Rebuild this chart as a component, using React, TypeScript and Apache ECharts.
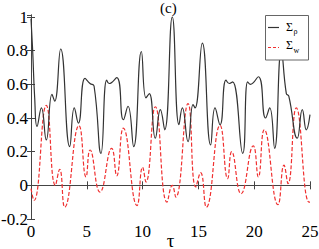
import React, { useEffect, useRef } from "react";
import * as echarts from "echarts";

const xTicks = [0, 5, 10, 15, 20, 25];
const yTicks = [-0.2, 0, 0.2, 0.4, 0.6, 0.8, 1];

const sigmaRho: [number, number][] = [
  [0, 0.99], [0.15, 0.8], [0.33, 0.52], [0.54, 0.35], [0.93, 0.46], [1.37, 0.27],
  [1.88, 0.54], [2.12, 0.5], [2.66, 0.81], [3.47, 0.23], [3.88, 0.46], [4.24, 0.37],
  [4.84, 0.635], [5.29, 0.605], [5.65, 0.59], [6.27, 0.19], [6.78, 0.625], [7.0, 0.605],
  [7.68, 0.64], [8.28, 0.39], [8.69, 0.47], [9.2, 0.23], [9.89, 0.795], [10.3, 0.52],
  [10.6, 0.545], [11.14, 0.28], [11.59, 0.45], [11.98, 0.33], [12.66, 1.0], [13.26, 0.36],
  [13.56, 0.46], [14.07, 0.26], [14.52, 0.48], [14.7, 0.46], [15.35, 0.845], [16.1, 0.24],
  [16.49, 0.46], [16.94, 0.36], [17.47, 0.625], [17.77, 0.605], [18.07, 0.615], [18.97, 0.19],
  [19.41, 0.615], [19.65, 0.6], [20.37, 0.645], [21.02, 0.4], [21.39, 0.46], [21.83, 0.22],
  [22.43, 0.8], [22.88, 0.545], [23.1, 0.53], [23.86, 0.28], [24.31, 0.45], [24.67, 0.33],
  [25, 0.42],
];

const sigmaW: [number, number][] = [
  [0, -0.02], [0.27, -0.09], [1.37, 0.475], [2.18, 0.0], [2.57, 0.095], [3.02, -0.13],
  [4.3, 0.355], [4.93, 0.05], [5.29, 0.21], [6.18, -0.04], [7.23, 0.22], [7.68, 0.057],
  [8.27, 0.34], [9.5, -0.12], [10.0, 0.108], [10.3, 0.02], [11.14, 0.467], [12.19, -0.1],
  [12.66, 0.0], [12.97, -0.07], [14.07, 0.486], [14.76, -0.01], [15.2, 0.075], [15.71, -0.13],
  [16.94, 0.357], [17.62, 0.04], [17.98, 0.2], [18.82, -0.05], [19.92, 0.234], [20.37, 0.05],
  [20.9, 0.33], [22.13, -0.115], [22.67, 0.12], [23.03, 0.01], [23.77, 0.46], [24.91, -0.1],
  [25, -0.1],
];

const FONT = "Liberation Serif";
const AXIS_COLOR = "#444";

export default function App() {
  const ref = useRef<HTMLDivElement>(null);
  useEffect(() => {
    if (!ref.current) return;
    const chart = echarts.init(ref.current, undefined, { renderer: "svg" });
    const axisCommon = {
      axisLine: { show: true, lineStyle: { color: AXIS_COLOR, width: 1 } },
      axisTick: { show: true, inside: true, length: 4, lineStyle: { color: AXIS_COLOR } },
      splitLine: { show: false },
    };
    chart.setOption({
      animation: false,
      backgroundColor: "#fff",
      title: {
        text: "(c)",
        left: 160,
        top: 0,
        padding: 0,
        textStyle: { fontFamily: FONT, fontSize: 15, fontWeight: "normal", color: "#000" },
      },
      grid: { left: 31, right: 9, top: 15, bottom: 30, containLabel: false, outerBoundsMode: "none" },
      xAxis: [
        {
          type: "value",
          min: xTicks[0],
          max: xTicks[xTicks.length - 1],
          interval: 5,
          ...axisCommon,
          axisLabel: { fontFamily: FONT, fontSize: 17, color: "#000", margin: 4 },
        },
        {
          type: "value",
          position: "top",
          min: xTicks[0],
          max: xTicks[xTicks.length - 1],
          interval: 5,
          ...axisCommon,
          axisLabel: { show: false },
        },
      ],
      yAxis: [
        {
          type: "value",
          min: yTicks[0],
          max: 1.012,
          interval: 0.2,
          ...axisCommon,
          axisLabel: { fontFamily: FONT, fontSize: 17, color: "#000", margin: 3, showMaxLabel: false },
        },
        {
          type: "value",
          position: "right",
          min: yTicks[0],
          max: 1.012,
          interval: 0.2,
          ...axisCommon,
          axisLabel: { show: false },
        },
      ],
      series: [
        {
          name: "rho",
          type: "line",
          data: sigmaRho,
          smooth: 0.5,
          symbol: "none",
          lineStyle: { color: "#333", width: 1.2 },
          z: 3,
        },
        {
          name: "w",
          type: "line",
          data: sigmaW,
          smooth: 0.5,
          symbol: "none",
          lineStyle: { color: "#f03030", width: 1.2, type: [4, 2] },
          z: 2,
        },
      ],
      graphic: [
        {
          type: "text",
          x: 170.5,
          y: 240,
          style: {
            text: "τ",
            font: `19px ${FONT}`,
            lineHeight: 14,
            fill: "#000",
            textAlign: "center",
            textVerticalAlign: "middle",
          },
        },
        {
          type: "rect",
          shape: { x: 265.5, y: 15.5, width: 43, height: 44.5 },
          style: { fill: "#fff", stroke: "#666", lineWidth: 1 },
          z: 10,
        },
        {
          type: "line",
          shape: { x1: 268, y1: 27.5, x2: 279, y2: 27.5 },
          style: { stroke: "#333", lineWidth: 1.2 },
          z: 11,
        },
        {
          type: "line",
          shape: { x1: 268, y1: 47.5, x2: 279, y2: 47.5 },
          style: { stroke: "#f03030", lineWidth: 1.2, lineDash: [3, 2] },
          z: 11,
        },
        {
          type: "text",
          x: 286,
          y: 26.5,
          style: { text: "Σ", font: `12px ${FONT}`, fill: "#000", textVerticalAlign: "middle" },
          z: 11,
        },
        {
          type: "text",
          x: 293.5,
          y: 31.5,
          style: { text: "ρ", font: `8px ${FONT}`, fill: "#000", textVerticalAlign: "middle" },
          z: 11,
        },
        {
          type: "text",
          x: 286,
          y: 44.5,
          style: { text: "Σ", font: `12px ${FONT}`, fill: "#000", textVerticalAlign: "middle" },
          z: 11,
        },
        {
          type: "text",
          x: 293.5,
          y: 50,
          style: { text: "w", font: `8px ${FONT}`, fill: "#000", textVerticalAlign: "middle" },
          z: 11,
        },
      ],
    });
    return () => chart.dispose();
  }, []);
  return <div ref={ref} style={{ width: 319, height: 249, position: "absolute", left: 0, top: 0 }} />;
}
